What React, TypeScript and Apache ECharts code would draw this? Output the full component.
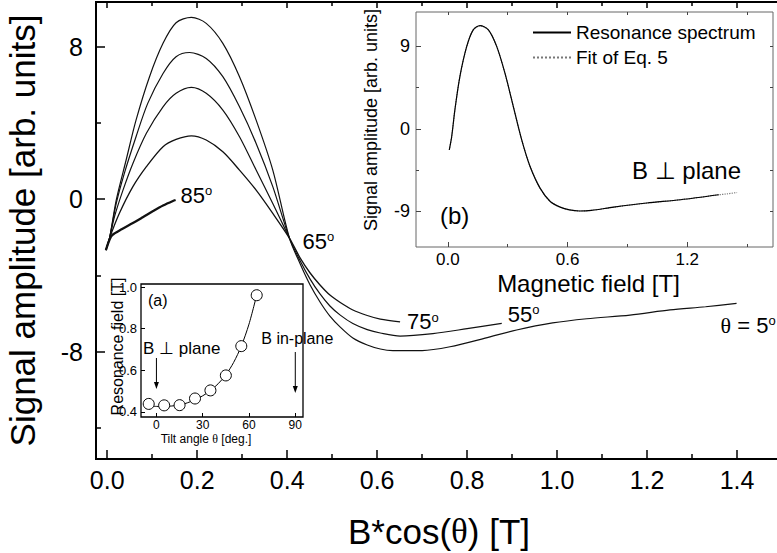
import React, { useEffect, useRef } from "react";
import * as echarts from "echarts";

const SANS = '"Liberation Sans", Arial, Helvetica, sans-serif';
const SERIF = '"Liberation Serif", "Times New Roman", serif';

// ---------------- main panel ----------------
const mainXRange = [-0.025, 1.5];
const mainYRange = [-13.64, 10.34];
const mainXMajor = [0, 0.2, 0.4, 0.6, 0.8, 1.0, 1.2, 1.4];
const mainXMinor = [0.1, 0.3, 0.5, 0.7, 0.9, 1.1, 1.3, 1.5];
const mainYMajor = [-8, 0, 8];
const mainYMinor = [-12, -4, 4];

const theta5 = [
  [-0.003, -2.68], [0.005, -2.06], [0.02, -0.05], [0.042, 2.05], [0.064, 4.14], [0.094, 6.42],
  [0.124, 8.17], [0.153, 9.25], [0.187, 9.53], [0.22, 9.22], [0.257, 8.17], [0.294, 6.42],
  [0.331, 4.14], [0.368, 1.52], [0.405, -2.05], [0.429, -3.41], [0.451, -4.51], [0.473, -5.4],
  [0.495, -6.14], [0.518, -6.72], [0.546, -7.29], [0.578, -7.66], [0.607, -7.87], [0.635, -7.95],
  [0.7, -7.95], [0.762, -7.75], [0.84, -7.3], [0.91, -6.87], [0.99, -6.5], [1.066, -6.28],
  [1.162, -6.09], [1.251, -5.82], [1.33, -5.65], [1.399, -5.47],
];
const theta55 = [
  [-0.003, -2.68], [0.005, -2.06], [0.02, -0.23], [0.038, 1.35], [0.064, 3.27], [0.09, 5.02],
  [0.124, 6.59], [0.153, 7.47], [0.183, 7.69], [0.22, 7.38], [0.257, 6.42], [0.294, 4.84],
  [0.331, 2.92], [0.368, 0.65], [0.405, -2.05], [0.429, -3.25], [0.451, -4.2], [0.473, -4.98],
  [0.495, -5.61], [0.518, -6.09], [0.546, -6.53], [0.578, -6.85], [0.607, -7.03], [0.651, -7.19],
  [0.724, -7.06], [0.8, -6.8], [0.877, -6.52],
];
const theta65 = [
  [-0.003, -2.68], [0.005, -2.06], [0.016, -0.93], [0.035, 0.47], [0.057, 1.87], [0.087, 3.45],
  [0.124, 4.84], [0.153, 5.55], [0.187, 5.86], [0.22, 5.55], [0.257, 4.67], [0.294, 3.27],
  [0.331, 1.52], [0.368, -0.23], [0.405, -2.05],
];
const theta75 = [
  [-0.003, -2.68], [0.005, -2.06], [0.027, -0.75], [0.057, 0.65], [0.087, 1.7], [0.124, 2.75],
  [0.153, 3.13], [0.187, 3.32], [0.22, 3.1], [0.257, 2.48], [0.294, 1.52], [0.331, 0.47],
  [0.368, -0.75], [0.405, -2.05], [0.429, -3.1], [0.451, -3.88], [0.473, -4.51], [0.495, -5.04],
  [0.518, -5.43], [0.546, -5.82], [0.578, -6.11], [0.607, -6.3], [0.651, -6.44],
];
const theta85 = [
  [-0.003, -2.68], [0.004, -2.2], [0.011, -1.89], [0.033, -1.57], [0.057, -1.26], [0.08, -0.94],
  [0.102, -0.63], [0.124, -0.34], [0.146, -0.1], [0.152, -0.05],
];

// ---------------- inset (b) ----------------
const bXRange = [-0.16, 1.63];
const bYRange = [-12.9, 12.75];
const bXMajor = [0, 0.6, 1.2];
const bXMinor = [0.3, 0.9, 1.5];
const bXAll = [0, 0.3, 0.6, 0.9, 1.2, 1.5];
const bYMajor = [-9, 0, 9];
const bYMinor = [-4.5, 4.5];
const bYAll = [-9, -4.5, 0, 4.5, 9];

const spectrumB = [
  [0.007, -2.29], [0.019, -0.84], [0.035, 2.07], [0.06, 5.7], [0.094, 8.97], [0.127, 10.8],
  [0.161, 11.27], [0.203, 10.8], [0.245, 8.97], [0.286, 6.07], [0.328, 2.43], [0.37, -1.2],
  [0.412, -4.11], [0.462, -6.47], [0.513, -7.93], [0.563, -8.55], [0.61, -8.85], [0.66, -8.97],
  [0.72, -8.9], [0.831, -8.55], [0.998, -8.1], [1.166, -7.74], [1.358, -7.2],
];
const fitB = [
  [0.007, -2.3], [0.019, -0.85], [0.035, 2.05], [0.06, 5.7], [0.094, 8.95], [0.127, 10.8],
  [0.161, 11.25], [0.203, 10.8], [0.245, 8.97], [0.286, 6.07], [0.328, 2.43], [0.37, -1.2],
  [0.412, -4.11], [0.462, -6.47], [0.513, -7.93], [0.563, -8.55], [0.61, -8.85], [0.66, -8.97],
  [0.72, -8.9], [0.831, -8.55], [0.998, -8.1], [1.166, -7.74], [1.358, -7.2], [1.4, -7.1],
  [1.45, -6.95],
];

// ---------------- inset (a) ----------------
const aXRange = [-10, 95];
const aYRange = [0.375, 1.015];
const aXTicks = [0, 30, 60, 90];
const aYTicks = [0.4, 0.6, 0.8, 1.0];
const tiltAngles = [-5, 5, 15, 25, 35, 45, 55, 65];
const resonanceField = [0.438, 0.431, 0.432, 0.464, 0.503, 0.575, 0.716, 0.961];
const fitAngles = [-5, 0, 5, 10, 15, 20, 25, 30, 35, 40, 45, 50, 55, 60, 65];
const fitField = [0.428, 0.426, 0.426, 0.428, 0.433, 0.443, 0.458, 0.477, 0.502, 0.535, 0.578, 0.637, 0.716, 0.822, 0.962];

// ---------------- helpers ----------------
const tickAxis = (o: any) => ({
  type: "value",
  axisLine: { show: false, onZero: false },
  splitLine: { show: false },
  axisLabel: { show: false },
  nameMoveOverlap: false,
  ...o,
});
const ticks = (values: number[], length: number, color = "#000", width = 1.5) => ({
  show: true,
  inside: true,
  length,
  customValues: values,
  lineStyle: { color, width },
});

const mainLine = (name: string, data: number[][], width: number) => ({
  type: "line",
  name,
  data,
  xAxisIndex: 0,
  yAxisIndex: 0,
  symbol: "none",
  showSymbol: false,
  smooth: 0.3,
  silent: true,
  lineStyle: { color: "#111", width },
  z: 3,
});

const degRich = {
  n: { fontSize: 22, fontFamily: SANS, color: "#000" },
  t: { fontSize: 22, fontFamily: SERIF, color: "#000" },
  s: { fontSize: 13, fontFamily: SANS, color: "#000", verticalAlign: "top" },
};

function buildOption() {
  return {
    animation: false,
    backgroundColor: "#fff",
    legend: {
      data: ["Resonance spectrum", "Fit of Eq. 5"],
      orient: "vertical",
      left: 527,
      top: 18,
      itemWidth: 38,
      itemHeight: 12,
      itemGap: 6,
      selectedMode: false,
      itemStyle: { color: "rgba(0,0,0,0)", borderWidth: 0, opacity: 0 },
      textStyle: { fontSize: 19, fontFamily: SANS, color: "#000" },
    },
    grid: [
      { left: 96, top: 2, width: 686, height: 457, show: true, borderColor: "#000", borderWidth: 2, backgroundColor: "transparent", outerBoundsMode: "none", containLabel: false },
      { left: 416, top: 12, width: 357, height: 235, show: true, borderColor: "#666", borderWidth: 1, backgroundColor: "#fff", outerBoundsMode: "none", containLabel: false },
      { left: 141, top: 284, width: 162, height: 133, show: true, borderColor: "#000", borderWidth: 1.3, backgroundColor: "#fff", outerBoundsMode: "none", containLabel: false },
    ],
    xAxis: [
      tickAxis({
        gridIndex: 0, min: mainXRange[0], max: mainXRange[1], position: "bottom",
        axisTick: ticks(mainXMajor, 9),
        axisLabel: {
          show: true, customValues: mainXMajor, formatter: (v: number) => v.toFixed(1),
          fontSize: 25, fontFamily: SANS, color: "#000", margin: 8,
        },
        name: "B*cos({t|θ}) [T]", nameLocation: "middle", nameGap: 55,
        nameTextStyle: { fontSize: 35, fontFamily: SANS, color: "#000", rich: { t: { fontSize: 35, fontFamily: SERIF, color: "#000" } } },
      }),
      tickAxis({ gridIndex: 0, min: mainXRange[0], max: mainXRange[1], position: "bottom", axisTick: ticks(mainXMinor, 5) }),
      tickAxis({ gridIndex: 0, min: mainXRange[0], max: mainXRange[1], position: "top", axisTick: ticks(mainXMajor, 6) }),
      tickAxis({ gridIndex: 0, min: mainXRange[0], max: mainXRange[1], position: "top", axisTick: ticks(mainXMinor, 4) }),
      tickAxis({
        gridIndex: 1, min: bXRange[0], max: bXRange[1], position: "bottom",
        axisTick: ticks(bXMajor, 5, "#444", 1),
        axisLabel: {
          show: true, customValues: bXMajor, formatter: (v: number) => v.toFixed(1),
          fontSize: 17, fontFamily: SANS, color: "#000", margin: 4,
        },
        name: "Magnetic field [T]", nameLocation: "middle", nameGap: 24,
        nameTextStyle: { fontSize: 24, fontFamily: SANS, color: "#000", padding: [0, 12, 0, 0] },
      }),
      tickAxis({ gridIndex: 1, min: bXRange[0], max: bXRange[1], position: "bottom", axisTick: ticks(bXMinor, 3, "#444", 1) }),
      tickAxis({ gridIndex: 1, min: bXRange[0], max: bXRange[1], position: "top", axisTick: ticks(bXAll, 3, "#444", 1) }),
      tickAxis({
        gridIndex: 2, min: aXRange[0], max: aXRange[1], position: "bottom",
        axisTick: ticks(aXTicks, 4, "#000", 1),
        axisLabel: {
          show: true, customValues: aXTicks, formatter: (v: number) => String(v),
          fontSize: 12, fontFamily: SANS, color: "#000", margin: 2,
        },
        name: "Tilt angle {t|θ} [deg.]", nameLocation: "middle", nameGap: 16,
        nameTextStyle: { fontSize: 12, fontFamily: SANS, color: "#000", padding: [0, 32, 0, 0], rich: { t: { fontSize: 12, fontFamily: SERIF, color: "#000" } } },
      }),
    ],
    yAxis: [
      tickAxis({
        gridIndex: 0, min: mainYRange[0], max: mainYRange[1], position: "left",
        axisTick: ticks(mainYMajor, 9),
        axisLabel: {
          show: true, customValues: mainYMajor, formatter: (v: number) => String(v),
          fontSize: 25, fontFamily: SANS, color: "#000", margin: 13,
        },
        name: "Signal amplitude [arb. units]", nameLocation: "middle", nameGap: 56,
        nameTextStyle: { fontSize: 35, fontFamily: SANS, color: "#000" },
      }),
      tickAxis({ gridIndex: 0, min: mainYRange[0], max: mainYRange[1], position: "left", axisTick: ticks(mainYMinor, 5) }),
      tickAxis({
        gridIndex: 1, min: bYRange[0], max: bYRange[1], position: "left",
        axisTick: ticks(bYMajor, 5, "#444", 1),
        axisLabel: {
          show: true, customValues: bYMajor, formatter: (v: number) => String(v),
          fontSize: 18, fontFamily: SANS, color: "#000", margin: 6,
        },
        name: "Signal amplitude [arb. units]", nameLocation: "middle", nameGap: 36,
        nameTextStyle: { fontSize: 18, fontFamily: SANS, color: "#000", padding: [0, 0, 0, 19] },
      }),
      tickAxis({ gridIndex: 1, min: bYRange[0], max: bYRange[1], position: "left", axisTick: ticks(bYMinor, 3, "#444", 1) }),
      tickAxis({ gridIndex: 1, min: bYRange[0], max: bYRange[1], position: "right", axisTick: ticks(bYAll, 3, "#444", 1) }),
      tickAxis({
        gridIndex: 2, min: aYRange[0], max: aYRange[1], position: "left",
        axisTick: ticks(aYTicks, 4, "#000", 1),
        axisLabel: {
          show: true, customValues: aYTicks, formatter: (v: number) => v.toFixed(1),
          fontSize: 13, fontFamily: SANS, color: "#000", margin: 4,
        },
        name: "Resonance field [T]", nameLocation: "middle", nameGap: 16,
        nameTextStyle: { fontSize: 16, fontFamily: SANS, color: "#000", padding: [0, 0, 0, 8] },
      }),
    ],
    series: [
      mainLine("θ = 5°", theta5, 1.2),
      mainLine("55°", theta55, 1.2),
      mainLine("65°", theta65, 1.2),
      mainLine("75°", theta75, 1.3),
      mainLine("85°", theta85, 2.3),
      {
        type: "line", name: "Fit of Eq. 5", data: fitB, xAxisIndex: 4, yAxisIndex: 2,
        symbol: "none", showSymbol: false, smooth: 0.3, silent: true,
        lineStyle: { color: "#777", width: 1.2, type: "dotted" }, itemStyle: { color: "#777" }, z: 3,
      },
      {
        type: "line", name: "Resonance spectrum", data: spectrumB, xAxisIndex: 4, yAxisIndex: 2,
        symbol: "none", showSymbol: false, smooth: 0.3, silent: true,
        lineStyle: { color: "#000", width: 1.2 }, itemStyle: { color: "#000" }, z: 4,
      },
      {
        type: "line", name: "fit (a)", data: fitAngles.map((a, i) => [a, fitField[i]]), xAxisIndex: 7, yAxisIndex: 5,
        symbol: "none", showSymbol: false, smooth: 0.3, silent: true,
        lineStyle: { color: "#000", width: 1 }, z: 3,
      },
      {
        type: "scatter", name: "Resonance field", data: tiltAngles.map((a, i) => [a, resonanceField[i]]),
        xAxisIndex: 7, yAxisIndex: 5, symbol: "circle", symbolSize: 11, silent: true,
        itemStyle: { color: "#fff", borderColor: "#000", borderWidth: 1, opacity: 1 }, z: 4,
      },
    ],
  };
}

export default function App() {
  const ref = useRef<HTMLDivElement>(null);
  useEffect(() => {
    if (!ref.current) return;
    const chart = echarts.init(ref.current, null, { renderer: "svg" });
    chart.setOption(buildOption() as any);

    const px = (seriesIndex: number, p: number[]) =>
      chart.convertToPixel({ seriesIndex } as any, p) as unknown as number[];
    const last = (arr: number[][]) => arr[arr.length - 1];

    const label = (seriesIndex: number, data: number[][], text: string, dx: number, dy: number) => {
      const [x, y] = px(seriesIndex, last(data));
      return {
        type: "text", x: x + dx, y: y + dy, z: 10, silent: true,
        style: { text, rich: degRich, align: "left", verticalAlign: "middle" },
      };
    };

    const arrow = (x: number, y0: number, y1: number) => [
      { type: "line", z: 10, silent: true, shape: { x1: x, y1: y0, x2: x, y2: y1 - 5 }, style: { stroke: "#000", lineWidth: 1 } },
      { type: "polygon", z: 10, silent: true, shape: { points: [[x - 2.5, y1 - 7], [x + 2.5, y1 - 7], [x, y1]] }, style: { fill: "#000" } },
    ];

    const xPerp = px(8, [0, 0.5])[0];
    const xInPlane = px(8, [90, 0.5])[0];

    const textStyle = (text: string, fontSize: number, align = "left") => ({
      text, fontSize, fontFamily: SANS, fill: "#000", align, verticalAlign: "middle",
    });

    chart.setOption({
      graphic: {
        elements: [
          label(4, theta85, "{n|85}{s|o}", 5, -5),
          label(2, theta65, "{n|65}{s|o}", 13, 3),
          label(3, theta75, "{n|75}{s|o}", 7, 0),
          label(1, theta55, "{n|55}{s|o}", 6, -9),
          label(0, theta5, "{t|θ}{n| = 5}{s|o}", -16, 22),
          { type: "text", x: 440, y: 215, z: 10, silent: true, style: textStyle("(b)", 24) },
          { type: "text", x: 632, y: 170, z: 10, silent: true, style: textStyle("B ⊥ plane", 24) },
          { type: "text", x: 148, y: 300, z: 10, silent: true, style: textStyle("(a)", 16) },
          { type: "text", x: 143, y: 348, z: 10, silent: true, style: textStyle("B ⊥ plane", 17) },
          { type: "text", x: xInPlane + 2, y: 338, z: 10, silent: true, style: textStyle("B in-plane", 16, "center") },
          ...arrow(xPerp, 358, 389),
          ...arrow(xInPlane, 352, 393),
        ],
      },
    } as any);

    return () => chart.dispose();
  }, []);

  return <div ref={ref} style={{ position: "fixed", left: 0, top: 0, width: 800, height: 553 }} />;
}
